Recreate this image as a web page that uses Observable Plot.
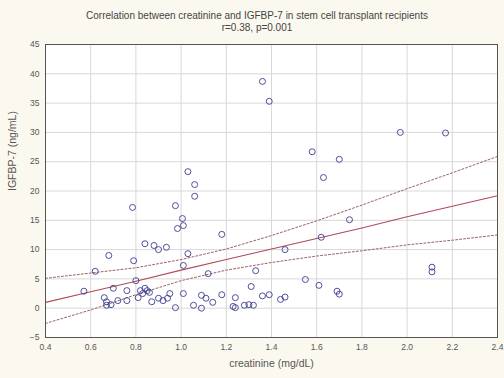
<!DOCTYPE html>
<html>
<head>
<meta charset="utf-8">
<script src="https://cdn.jsdelivr.net/npm/d3@7"></script>
<script src="https://cdn.jsdelivr.net/npm/@observablehq/plot@0.6"></script>
<style>
  html, body { margin: 0; padding: 0; background: #fbf9ef; }
  #wrap { position: relative; width: 504px; height: 378px; overflow: hidden; font-family: "Liberation Sans", Arial, sans-serif; color: #444; }
  .t { position: absolute; left: 0; width: 514px; text-align: center; font-size: 10px; line-height: 12px; white-space: nowrap; }
  #chart { position: absolute; left: 0; top: 36px; }
</style>
</head>
<body>
<div id="wrap">
  <div class="t" style="top:10px">Correlation between creatinine and IGFBP-7 in stem cell transplant recipients</div>
  <div class="t" style="top:22px">r=0.38, p=0.001</div>
  <div id="chart"></div>
</div>
<script>
// creatinine (mg/dL)
const creatinine = [1.36,1.39,1.03,1.06,1.06,1.97,2.17,1.58,1.70,1.63,1.745,1.62,1.55,1.61,1.69,1.70,2.11,2.11,1.46,1.44,1.46,1.18,1.03,1.33,1.12,1.31,1.18,1.24,1.36,1.39,1.09,1.11,1.14,1.055,1.09,1.24,1.28,1.30,1.32,0.785,0.975,1.006,1.01,0.984,0.84,0.88,0.90,0.935,0.68,0.79,0.62,1.01,0.80,0.57,0.70,0.76,1.01,0.82,0.84,0.85,0.83,0.81,0.86,0.66,0.67,0.69,0.67,0.72,0.76,0.87,0.90,0.92,0.94,0.95,0.975,1.23];
// IGFBP-7 (ng/mL)
const igfbp7 = [38.7,35.3,23.3,21.1,19.1,30.0,29.9,26.7,25.4,22.3,15.1,12.1,4.9,3.9,2.9,2.4,7.0,6.2,10.0,1.5,1.9,12.6,9.3,6.4,5.9,3.7,2.3,1.8,2.1,2.3,2.2,1.7,1.0,0.5,0.0,0.1,0.5,0.6,0.5,17.2,17.5,15.3,14.1,13.6,11.0,10.7,10.0,10.4,9.0,8.1,6.3,7.3,4.7,2.9,3.4,3.0,2.5,3.0,3.4,3.0,2.5,1.8,2.7,1.8,1.1,0.6,0.5,1.3,1.3,1.1,1.7,1.3,1.7,2.5,0.1,0.3];

// regression line and 95% confidence band
const fitX   = [0.4, 0.6, 0.8, 1.0, 1.2, 1.4, 1.6, 1.8, 2.0, 2.2, 2.4];
const fitY   = [1.0, 2.8, 4.6, 6.5, 8.3, 10.1, 11.9, 13.7, 15.6, 17.4, 19.2];
const upperY = [5.1, 6.0, 6.9, 8.3, 10.1, 12.4, 14.9, 17.6, 20.4, 23.1, 25.9];
const lowerY = [-2.6, -0.3, 2.3, 4.7, 6.5, 7.8, 8.9, 9.8, 10.8, 11.6, 12.5];

const xTicks = [0.4, 0.6, 0.8, 1.0, 1.2, 1.4, 1.6, 1.8, 2.0, 2.2, 2.4];
const yTicks = [-5, 0, 5, 10, 15, 20, 25, 30, 35, 40, 45];

const pts = creatinine.map((c, i) => ({x: c, y: igfbp7[i]}));
const fit = fitX.map((x, i) => ({x, y: fitY[i], up: upperY[i], lo: lowerY[i]}));

const chart = Plot.plot({
  width: 504,
  height: 342,
  marginLeft: 45,
  marginRight: 7,
  marginTop: 8,
  marginBottom: 41,
  style: {background: "transparent", fontFamily: "Liberation Sans, Arial, sans-serif", fontSize: "8.5px", color: "#444"},
  x: {domain: [0.4, 2.4], ticks: xTicks, tickFormat: d3.format(".1f"), label: null},
  y: {domain: [-5, 45], ticks: yTicks, label: null},
  marks: [
    Plot.frame({fill: "white", stroke: "none"}),
    Plot.gridX(xTicks, {stroke: "#d8d8d8", strokeOpacity: 1}),
    Plot.gridY(yTicks, {stroke: "#d8d8d8", strokeOpacity: 1}),
    Plot.axisX(xTicks, {tickSize: 0, tickPadding: 6, tickFormat: d3.format(".1f"), label: null, fill: "#555"}),
    Plot.axisY(yTicks, {tickSize: 0, tickPadding: 6, label: null, fill: "#555"}),
    Plot.line(fit, {x: "x", y: "up", stroke: "#9a6068", strokeWidth: 1, strokeDasharray: "2,2"}),
    Plot.line(fit, {x: "x", y: "lo", stroke: "#9a6068", strokeWidth: 1, strokeDasharray: "2,2"}),
    Plot.line(fit, {x: "x", y: "y", stroke: "#b04a5a", strokeWidth: 1.1}),
    Plot.dot(pts, {x: "x", y: "y", r: 3, stroke: "#3d3d8f", strokeWidth: 0.9, fill: "none"}),
    Plot.frame({stroke: "#555", strokeWidth: 1}),
    Plot.text(["creatinine (mg/dL)"], {text: d => d, frameAnchor: "bottom", dy: 29, fontSize: 10.5, fill: "#555"}),
    Plot.text(["IGFBP-7 (ng/mL)"], {text: d => d, frameAnchor: "left", dx: -33, rotate: -90, fontSize: 10.5, fill: "#555"})
  ]
});
document.getElementById("chart").appendChild(chart);
</script>
</body>
</html>
